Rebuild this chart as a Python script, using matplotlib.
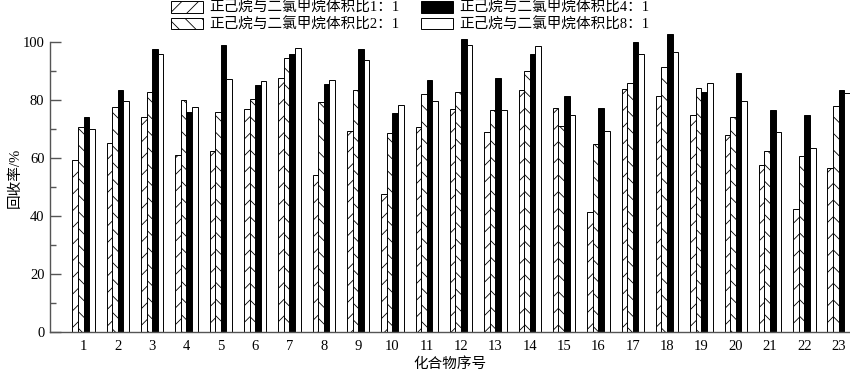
import numpy as np
import matplotlib
matplotlib.use("Agg")
import matplotlib.pyplot as plt
from matplotlib.ticker import MultipleLocator

plt.rcParams['font.family'] = ['Liberation Serif', 'Noto Sans CJK SC', 'DejaVu Sans']
plt.rcParams['hatch.linewidth'] = 0.6
plt.rcParams['hatch.color'] = 'black'

compounds = [str(i) for i in range(1, 24)]
ratio_1 = [59.3, 65.1, 74.0, 61.0, 62.5, 77.0, 87.7, 54.2, 69.4, 47.7, 70.8, 77.0,
           68.9, 83.6, 77.2, 41.4, 83.8, 81.5, 74.8, 67.9, 57.7, 42.3, 56.7]
ratio_2 = [70.6, 77.5, 82.7, 79.9, 75.7, 80.5, 94.6, 79.4, 83.4, 68.6, 82.0, 82.7,
           76.7, 90.0, 71.0, 64.8, 85.8, 91.5, 84.1, 74.3, 62.5, 60.7, 77.8]
ratio_4 = [74.0, 83.6, 97.7, 75.9, 99.1, 85.1, 95.8, 85.4, 97.7, 75.6, 86.9, 101.0,
           87.7, 96.0, 81.5, 77.4, 100.0, 102.9, 82.6, 89.2, 76.5, 74.9, 83.4]
ratio_8 = [70.0, 79.7, 95.8, 77.5, 87.2, 86.7, 97.8, 86.8, 93.8, 78.3, 79.7, 99.1,
           76.5, 98.6, 74.8, 69.3, 95.8, 96.7, 85.9, 79.5, 69.0, 63.6, 82.3]
labels = ['正己烷与二氯甲烷体积比1：1', '正己烷与二氯甲烷体积比2：1',
          '正己烷与二氯甲烷体积比4：1', '正己烷与二氯甲烷体积比8：1']

fig = plt.figure(figsize=(8.5, 3.76), dpi=100)
ax = fig.add_axes([50 / 850, 44 / 376, 800 / 850, 290 / 376])

x = np.arange(1, 24)
w = 0.163
series = [ratio_1, ratio_2, ratio_4, ratio_8]
styles = [dict(color='white', hatch='//'), dict(color='white', hatch='\\\\'),
          dict(color='black', hatch=None), dict(color='white', hatch=None)]
for k, (vals, st) in enumerate(zip(series, styles)):
    bars = ax.bar(x + (k - 1.5) * w, vals, w, facecolor=st['color'], edgecolor='black',
                  linewidth=0.7, hatch=st['hatch'], label=labels[k])
    for b in bars:
        b.set_clip_on(False)

ax.set_xlim(0.024, 23.33)
ax.set_ylim(0, 100)
ax.set_xticks(x)
ax.set_xticklabels(compounds)
ax.yaxis.set_major_locator(MultipleLocator(20))
ax.yaxis.set_minor_locator(MultipleLocator(10))
ax.tick_params(axis='x', length=0, pad=6, labelsize=10.5)
ax.tick_params(axis='y', which='major', direction='in', length=8, width=1, color='#555555',
               pad=4, labelsize=10.5)
ax.tick_params(axis='y', which='minor', direction='in', length=4, width=1, color='#555555')
for s in ['top', 'right']:
    ax.spines[s].set_visible(False)
for s in ['left', 'bottom']:
    ax.spines[s].set_color('#555555')
    ax.spines[s].set_linewidth(1.0)

ax.set_xlabel('化合物序号', fontsize=10.5, labelpad=3)
ax.set_ylabel('回收率/%', fontsize=10.5)
ax.yaxis.set_label_coords(-0.035, 0.53)

fig.legend(loc='upper left', bbox_to_anchor=(171 / 850, 1 - 1 / 376), ncol=2, frameon=False,
           fontsize=10.5, handlelength=2.2, handleheight=0.85, handletextpad=0.4,
           columnspacing=1.5, labelspacing=0.15, borderpad=0, borderaxespad=0)

fig.savefig('out.png', dpi=100)
